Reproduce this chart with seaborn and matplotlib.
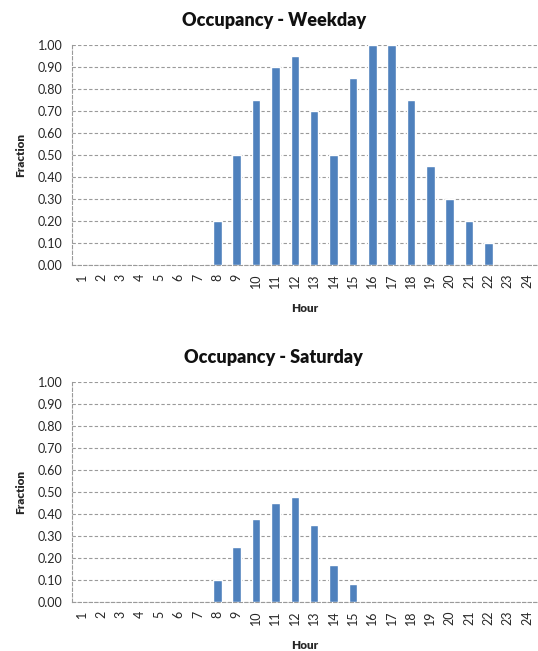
import matplotlib
matplotlib.use("Agg")
import matplotlib.pyplot as plt
import seaborn as sns
import pandas as pd
import numpy as np

hours = [str(h) for h in range(1, 25)]
weekday = [0.0, 0.0, 0.0, 0.005, 0.005, 0.005, 0.005, 0.20, 0.50, 0.75, 0.90, 0.95,
           0.70, 0.50, 0.85, 1.00, 1.00, 0.75, 0.45, 0.30, 0.20, 0.10, 0.0, 0.0]
saturday = [0.0, 0.0, 0.0, 0.0, 0.0, 0.0, 0.0, 0.10, 0.25, 0.375, 0.45, 0.475,
            0.35, 0.1667, 0.0833, 0.0, 0.0, 0.0, 0.0, 0.0, 0.0, 0.0, 0.0, 0.0]
titles = ["Occupancy - Weekday", "Occupancy - Saturday"]
yticks = [i / 10 for i in range(11)]

sns.set_theme(style="white")
plt.rcParams["font.family"] = ["Lato", "DejaVu Sans"]

bar_color = "#4F81BD"
grid_color = "#9a9a9a"

fig = plt.figure(figsize=(5.38, 6.51), dpi=100)
axes_rects = [[0.1338, 0.5929, 0.8642, 0.3380],
              [0.1338, 0.0753, 0.8642, 0.3379]]

for rect, values, title in zip(axes_rects, [weekday, saturday], titles):
    ax = fig.add_axes(rect)
    df = pd.DataFrame({"Hour": hours, "Fraction": values})
    sns.barplot(data=df, x="Hour", y="Fraction", color=bar_color, width=0.44,
                saturation=1, ax=ax, zorder=3)
    ax.set_xlim(-0.5, len(hours) - 0.5)
    ax.set_ylim(0, 1.0)
    ax.set_yticks(yticks)
    ax.set_yticklabels([f"{t:.2f}" for t in yticks], fontsize=9)
    ax.yaxis.grid(True, linestyle=(0, (3, 2)), color=grid_color, linewidth=0.8, zorder=0)
    ax.xaxis.grid(False)
    ax.tick_params(axis="x", which="major", length=0, labelsize=9, labelrotation=90, pad=6)
    ax.set_xticks(np.arange(-0.5, len(hours)), minor=True)
    ax.tick_params(axis="x", which="minor", length=4, color=grid_color, width=0.8, direction="out")
    ax.tick_params(axis="y", length=4, color=grid_color, width=0.8, direction="out", pad=3)
    for side in ["top", "right"]:
        ax.spines[side].set_visible(False)
    for side in ["left", "bottom"]:
        ax.spines[side].set_color(grid_color)
        ax.spines[side].set_linestyle((0, (3, 2)))
        ax.spines[side].set_linewidth(0.8)
    ax.set_xlabel("Hour", fontsize=8.5, fontweight="heavy", labelpad=11)
    ax.set_ylabel("Fraction", fontsize=8.5, fontweight="heavy", labelpad=8)
    ax.set_title(title, fontsize=13, fontweight="heavy", pad=14, color="#111111", x=0.434)

fig.savefig("out.png", dpi=100)
